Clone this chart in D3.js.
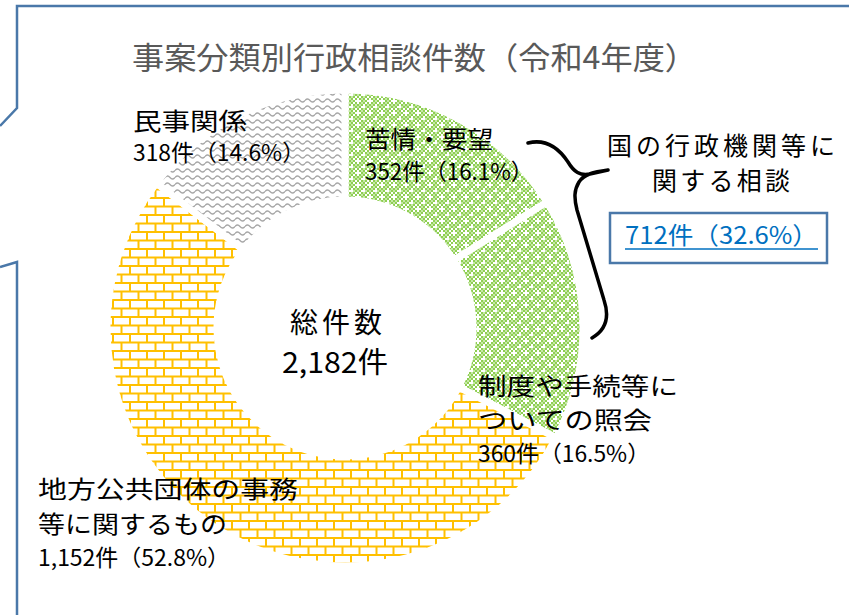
<!DOCTYPE html>
<html><head><meta charset="utf-8">
<script src="https://cdn.jsdelivr.net/npm/d3@7"></script>
<style>
html,body{margin:0;padding:0;background:#fff;}
svg{display:block;font-family:"Noto Sans CJK JP","Noto Sans",sans-serif;}
</style></head>
<body><svg id="c" width="849" height="615"></svg>
<script>
// ---- data ----
const title = "事案分類別行政相談件数（令和4年度）";
const categories = ["苦情・要望", "制度や手続等についての照会", "地方公共団体の事務等に関するもの", "民事関係"];
const labelLines = [["苦情・要望"], ["制度や手続等に", "ついての照会"], ["地方公共団体の事務", "等に関するもの"], ["民事関係"]];
const counts = [352, 360, 1152, 318];
const centerLabel = "総件数";
const groupLabel = ["国の行政機関等に", "関する相談"];
const groupMembers = [0, 1];

// ---- layout ----
const svg = d3.select("#c");
const cx = 345, cy = 328, rOuter = 238, rInner = 128;
const total = d3.sum(counts);
const fmt = d3.format(",");
const pct = v => (Math.round(v / total * 1000) / 10).toFixed(1);
const countText = v => fmt(v) + "件（" + pct(v) + "%）";

// ---- patterns ----
const defs = svg.append("defs");
// green checker with white crosses
const pg = defs.append("pattern").attr("id", "pGreen").attr("patternUnits", "userSpaceOnUse")
  .attr("width", 12).attr("height", 12);
pg.append("rect").attr("width", 12).attr("height", 12).attr("fill", "#ffffff");
for (let i = 0; i < 6; i++) for (let j = 0; j < 6; j++) {
  if ((i + j) % 2 !== 0) continue;
  if ((i === 0 && j === 0) || (i === 3 && j === 3)) continue;
  pg.append("rect").attr("x", i * 2).attr("y", j * 2).attr("width", 2).attr("height", 2).attr("fill", "#8fcf52");
}
for (let i = 0; i < 6; i++) for (let j = 0; j < 6; j++) {
  if ((i + j) % 2 !== 1) continue;
  if ((i + j) % 4 === 1) continue;
  pg.append("rect").attr("x", i * 2).attr("y", j * 2).attr("width", 2).attr("height", 2).attr("fill", "#c6e8a8");
}
// yellow bricks
const bw = 17, bh = 8.5;
const pb = defs.append("pattern").attr("id", "pBrick").attr("patternUnits", "userSpaceOnUse")
  .attr("width", bw).attr("height", bh * 2).attr("x", cx).attr("y", cy);
pb.append("rect").attr("width", bw).attr("height", bh * 2).attr("fill", "#ffffff");
pb.append("path").attr("d", `M0,1 H${bw} M0,${bh + 1} H${bw} M1,0 V${bh} M${bw / 2 + 1},${bh} V${bh * 2}`)
  .attr("stroke", "#ffc000").attr("stroke-width", 2).attr("fill", "none");
// gray waves
const pw = defs.append("pattern").attr("id", "pWave").attr("patternUnits", "userSpaceOnUse")
  .attr("width", 10).attr("height", 7);
pw.append("rect").attr("width", 10).attr("height", 7).attr("fill", "#ffffff");
pw.append("path").attr("d", "M0,3.5 Q2.5,0.5 5,3.5 T10,3.5").attr("stroke", "#a6a6a6").attr("stroke-width", 1.3).attr("fill", "none");

const fills = ["url(#pGreen)", "url(#pGreen)", "url(#pBrick)", "url(#pWave)"];

// ---- frame ----
svg.append("path").attr("d", "M849,6 L17,6 L17,108 L0,126 M0,267 L17,262 L17,615")
  .attr("fill", "none").attr("stroke", "#4a78a9").attr("stroke-width", 2.5);

// ---- title ----
svg.append("text").attr("x", 132).attr("y", 69).attr("font-size", 31).attr("fill", "#595959")
  .attr("textLength", 565).attr("lengthAdjust", "spacingAndGlyphs").text(title);

// ---- donut ----
const pie = d3.pie().sort(null).value(d => d)(counts);
const arc = d3.arc().innerRadius(rInner).outerRadius(rOuter);
const g = svg.append("g").attr("transform", `translate(${cx},${cy})`);
g.selectAll("path").data(pie).join("path")
  .attr("d", arc).attr("fill", (d, i) => fills[i])
  .attr("stroke", "#ffffff").attr("stroke-width", 7).attr("stroke-linejoin", "round");

// ---- labels ----
const labelPos = [
  {x: 365, ys: [148], yc: 180, w: [128], wc: 168},
  {x: 478, ys: [395, 429], yc: 462, w: [200, 174], wc: 172},
  {x: 38, ys: [498, 533], yc: 566, w: [260, 189], wc: 192},
  {x: 133, ys: [130], yc: 161, w: [114], wc: 172}
];
counts.forEach((v, i) => {
  const p = labelPos[i];
  labelLines[i].forEach((ln, k) => {
    svg.append("text").attr("x", p.x).attr("y", p.ys[k]).attr("font-size", 24).attr("fill", "#000")
      .attr("textLength", p.w[k]).attr("lengthAdjust", "spacingAndGlyphs").text(ln);
  });
  svg.append("text").attr("x", p.x).attr("y", p.yc).attr("font-size", 22.5).attr("fill", "#000")
    .attr("textLength", p.wc).attr("lengthAdjust", "spacingAndGlyphs").text(countText(v));
});

// center
svg.append("text").attr("x", 290).attr("y", 333).attr("font-size", 28).attr("fill", "#000")
  .attr("textLength", 92).attr("lengthAdjust", "spacing").text(centerLabel);
svg.append("text").attr("x", 282).attr("y", 373).attr("font-size", 29).attr("fill", "#000")
  .attr("textLength", 106).attr("lengthAdjust", "spacingAndGlyphs").text(fmt(total) + "件");

// brace
svg.append("path")
  .attr("d", "M528,143 C548,138 560,150 568,162 C574,172 580,176 590,174 L608,170 M608,170 C594,172 584,174 579,182 C574,190 574,198 577,210 L604,300 C610,318 606,330 592,338")
  .attr("fill", "none").attr("stroke", "#000").attr("stroke-width", 3.5).attr("stroke-linecap", "round");

// group label
svg.append("text").attr("x", 607).attr("y", 155).attr("font-size", 25).attr("fill", "#000")
  .attr("textLength", 228).attr("lengthAdjust", "spacing").text(groupLabel[0]);
svg.append("text").attr("x", 652).attr("y", 190).attr("font-size", 25).attr("fill", "#000")
  .attr("textLength", 138).attr("lengthAdjust", "spacing").text(groupLabel[1]);
const groupSum = d3.sum(groupMembers.map(i => counts[i]));
svg.append("rect").attr("x", 610).attr("y", 213).attr("width", 217).attr("height", 50)
  .attr("fill", "#fff").attr("stroke", "#4a78a9").attr("stroke-width", 2.5);
svg.append("text").attr("x", 625).attr("y", 244).attr("font-size", 24).attr("fill", "#0070c0")
  .attr("textLength", 193).attr("lengthAdjust", "spacingAndGlyphs").text(countText(groupSum));
svg.append("line").attr("x1", 625).attr("x2", 818).attr("y1", 249).attr("y2", 249)
  .attr("stroke", "#0070c0").attr("stroke-width", 1.5);
</script></body></html>
